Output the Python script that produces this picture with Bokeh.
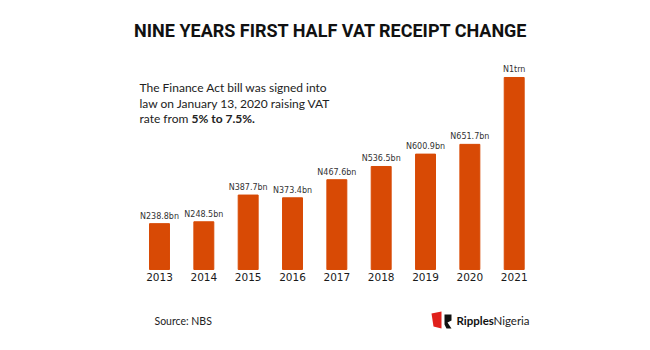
from bokeh.plotting import figure
from bokeh.models import ColumnDataSource, Label, Range1d, PolyAnnotation
from bokeh.core.properties import value
from bokeh.embed import file_html
from bokeh.resources import INLINE

years = [2013, 2014, 2015, 2016, 2017, 2018, 2019, 2020, 2021]
year_labels = ["2013", "2014", "2015", "2016", "2017", "2018", "2019", "2020", "2021"]
receipts_bn = [238.8, 248.5, 387.7, 373.4, 467.6, 536.5, 600.9, 651.7, 1000.0]
value_labels = ["N238.8bn", "N248.5bn", "N387.7bn", "N373.4bn", "N467.6bn",
                "N536.5bn", "N600.9bn", "N651.7bn", "N1trn"]

title_text = "NINE YEARS FIRST HALF VAT RECEIPT CHANGE"
note_lines = ["The Finance Act bill was signed into",
              "law on January 13, 2020 raising VAT",
              "rate from "]
note_bold = "5% to 7.5%."
source_text = "Source: NBS"

BAR = "#D84A05"

src = ColumnDataSource(dict(year=years, val=receipts_bn, lab=value_labels,
                            ylab=year_labels, base=[0] * len(years)))

p = figure(width=650, height=350,
           x_range=Range1d(2009.414, 2024.074), y_range=Range1d(-421.9, 1401),
           output_backend="svg", toolbar_location=None, min_border=0,
           outline_line_color=None, background_fill_color="white",
           border_fill_color="white")
p.grid.visible = False
p.axis.visible = False

p.vbar(x="year", top="val", width=0.45, source=src, fill_color=BAR,
       line_color=BAR)
p.text(x="year", y="val", text="lab", source=src, y_offset=-3,
       text_align="center", text_baseline="bottom",
       text_font=value("DejaVu Sans"), text_font_size="8px",
       text_color="#333333")
p.text(x="year", y="base", text="ylab", source=src, y_offset=4,
       text_align="center", text_baseline="top",
       text_font=value("DejaVu Sans"), text_font_size="10.5px",
       text_color="#1a1a1a")

def lab(x, y, t, size, font="Lato", style="normal", color="#222222",
        align="left"):
    p.add_layout(Label(x=x, y=y, x_units="screen", y_units="screen", text=t,
                       text_font=font, text_font_size=size,
                       text_font_style=style, text_color=color,
                       text_align=align, text_baseline="middle"))

H = 350
lab(330.5, H - 30, title_text, "18px", font="Roboto", style="bold",
    color="#111111", align="center")
for i, line in enumerate(note_lines):
    lab(139, H - 87 - 15.5 * i, line, "12px")
lab(191, H - 118, note_bold, "12px", style="bold")
lab(154, H - 320, source_text, "10.5px")

# logo
p.add_layout(PolyAnnotation(xs=[431, 441, 441, 433], ys=[H - 313, H - 311, H - 328, H - 326],
                            xs_units="screen", ys_units="screen",
                            fill_color="#E0201B", fill_alpha=1, line_color=None))
p.add_layout(PolyAnnotation(xs=[444, 451, 451, 447, 451, 446, 444],
                            ys=[H - 314, H - 314, H - 320, H - 322, H - 328, H - 328, H - 324],
                            xs_units="screen", ys_units="screen",
                            fill_color="#111111", fill_alpha=1, line_color=None))
lab(456, H - 320, "Ripples", "11.5px", style="bold", color="#111111")
lab(493, H - 320, "Nigeria", "11.5px", color="#222222")

open("out.html", "w").write(file_html(p, INLINE))
